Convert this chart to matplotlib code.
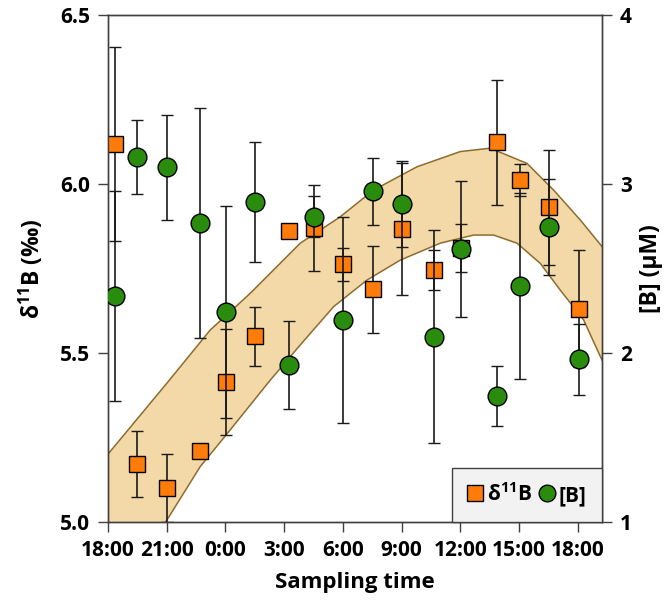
import matplotlib
matplotlib.use('Agg')
import matplotlib.pyplot as plt
from matplotlib.lines import Line2D
import numpy as np

plt.rcParams['font.family'] = ['Open Sans', 'DejaVu Sans']
plt.rcParams['font.weight'] = 'bold'
plt.rcParams['mathtext.fontset'] = 'custom'
plt.rcParams['mathtext.rm'] = 'Open Sans:bold'
plt.rcParams['mathtext.bf'] = 'Open Sans:bold'

# hours since 18:00 of the first day
sample_time = [0.37, 1.49, 3.02, 4.68, 6.01, 7.52, 9.26, 10.54, 12.0,
               13.52, 15.01, 16.66, 18.03, 19.86, 21.04, 22.52, 24.03]

d11B = [6.118, 5.171, 5.100, 5.211, 5.414, 5.549, 5.862, 5.870, 5.762,
        5.689, 5.867, 5.746, 5.811, 6.123, 6.011, 5.931, 5.631]
d11B_err = [0.287, 0.097, 0.10, 0.0, 0.158, 0.086, 0.0, 0.126, 0.05,
            0.129, 0.196, 0.059, 0.07, 0.186, 0.047, 0.17, 0.173]

B = [2.337, 3.158, 3.099, 2.767, 2.243, 2.892, 1.929, 2.807, 2.195,
     2.957, 2.883, 2.097, 2.615, 1.746, 2.396, 2.747, 1.963]
B_err = [0.62, 0.218, 0.31, 0.68, 0.627, 0.354, 0.26, 0.12, 0.607,
         0.199, 0.254, 0.63, 0.402, 0.175, 0.552, 0.284, 0.211]

# shaded band (delta11B scale)
upper_time = [0, 3.01, 5.22, 6.01, 7.27, 9.82, 11.86, 13.56, 15.78, 17.99,
              19.52, 21.40, 22.76, 24.13, 25.23]
upper = [5.201, 5.411, 5.568, 5.610, 5.677, 5.825, 5.903, 5.982, 6.051, 6.096,
         6.106, 6.061, 5.982, 5.893, 5.815]
lower_time = [0, 3.01, 4.71, 6.01, 8.29, 9.82, 11.52, 13.23, 14.93, 16.97,
              18.67, 19.69, 20.89, 22.08, 23.10, 24.29, 25.23]
lower = [4.75, 5.006, 5.164, 5.256, 5.420, 5.524, 5.637, 5.716, 5.775, 5.825,
         5.849, 5.849, 5.825, 5.765, 5.686, 5.598, 5.479]

tick_pos = [0, 3, 6, 9, 12, 15, 18, 21, 24]
tick_labels = ['18:00', '21:00', '0:00', '3:00', '6:00', '9:00', '12:00', '15:00', '18:00']

orange = '#FF7B0A'
green = '#2A8C0C'
band_fill = '#F3D9A7'
band_edge = '#8E6C2E'
spine_col = '#404040'

fig = plt.figure(figsize=(6.68, 6.06), dpi=100)
ax = fig.add_axes([0.1617, 0.1386, 0.7395, 0.8366])

poly_x = np.concatenate([upper_time, lower_time[::-1]])
poly_y = np.concatenate([upper, lower[::-1]])
ax.fill(poly_x, poly_y, color=band_fill, lw=0, zorder=1)
ax.plot(upper_time, upper, color=band_edge, lw=1.1, zorder=1.5)
ax.plot(lower_time, lower, color=band_edge, lw=1.1, zorder=1.5)

ax.errorbar(sample_time, d11B, yerr=d11B_err, fmt='s', ms=11, mfc=orange, mec='black',
            mew=1.0, ecolor='#1a1a1a', elinewidth=1.2, capsize=4, capthick=1.2, zorder=3)

ax.set_xlim(0, 25.23)
ax.set_ylim(5.0, 6.5)
ax.set_yticks([5.0, 5.5, 6.0, 6.5])
ax.set_yticklabels(['5.0', '5.5', '6.0', '6.5'])
ax.set_xticks(tick_pos)
ax.set_xticklabels(tick_labels)
ax.set_xlabel('Sampling time', fontsize=16, fontweight='bold', labelpad=8)
ax.set_ylabel('δ$^{11}$B (‰)', fontsize=16.5, fontweight='bold', labelpad=10)

ax2 = ax.twinx()
ax2.errorbar(sample_time, B, yerr=B_err, fmt='o', ms=13.5, mfc=green, mec='black',
             mew=1.0, ecolor='#1a1a1a', elinewidth=1.2, capsize=4, capthick=1.2, zorder=3)
ax2.set_ylim(1, 4)
ax2.set_yticks([1, 2, 3, 4])
ax2.set_ylabel('[B] (μM)', fontsize=16.5, fontweight='bold', labelpad=5)

for a in (ax, ax2):
    for s in a.spines.values():
        s.set_color(spine_col)
        s.set_linewidth(1.0)
    a.tick_params(direction='out', length=7, width=1.0, color=spine_col,
                  labelsize=15, pad=6)

handles = [Line2D([], [], ls='none', marker='s', ms=11, mfc=orange, mec='black'),
           Line2D([], [], ls='none', marker='o', ms=12, mfc=green, mec='black')]
leg = ax2.legend(handles, ['δ$^{11}$B', '[B]'], loc='lower right', ncol=2,
                 fontsize=15, frameon=True, fancybox=False, borderaxespad=0,
                 handlelength=0.75, handleheight=1.0, handletextpad=0.2,
                 columnspacing=0.3, borderpad=0.75)
leg.get_frame().set_facecolor('#F2F2F2')
leg.get_frame().set_edgecolor(spine_col)
leg.get_frame().set_linewidth(1.0)
leg.get_frame().set_alpha(1)

fig.savefig('out.png', dpi=100)
